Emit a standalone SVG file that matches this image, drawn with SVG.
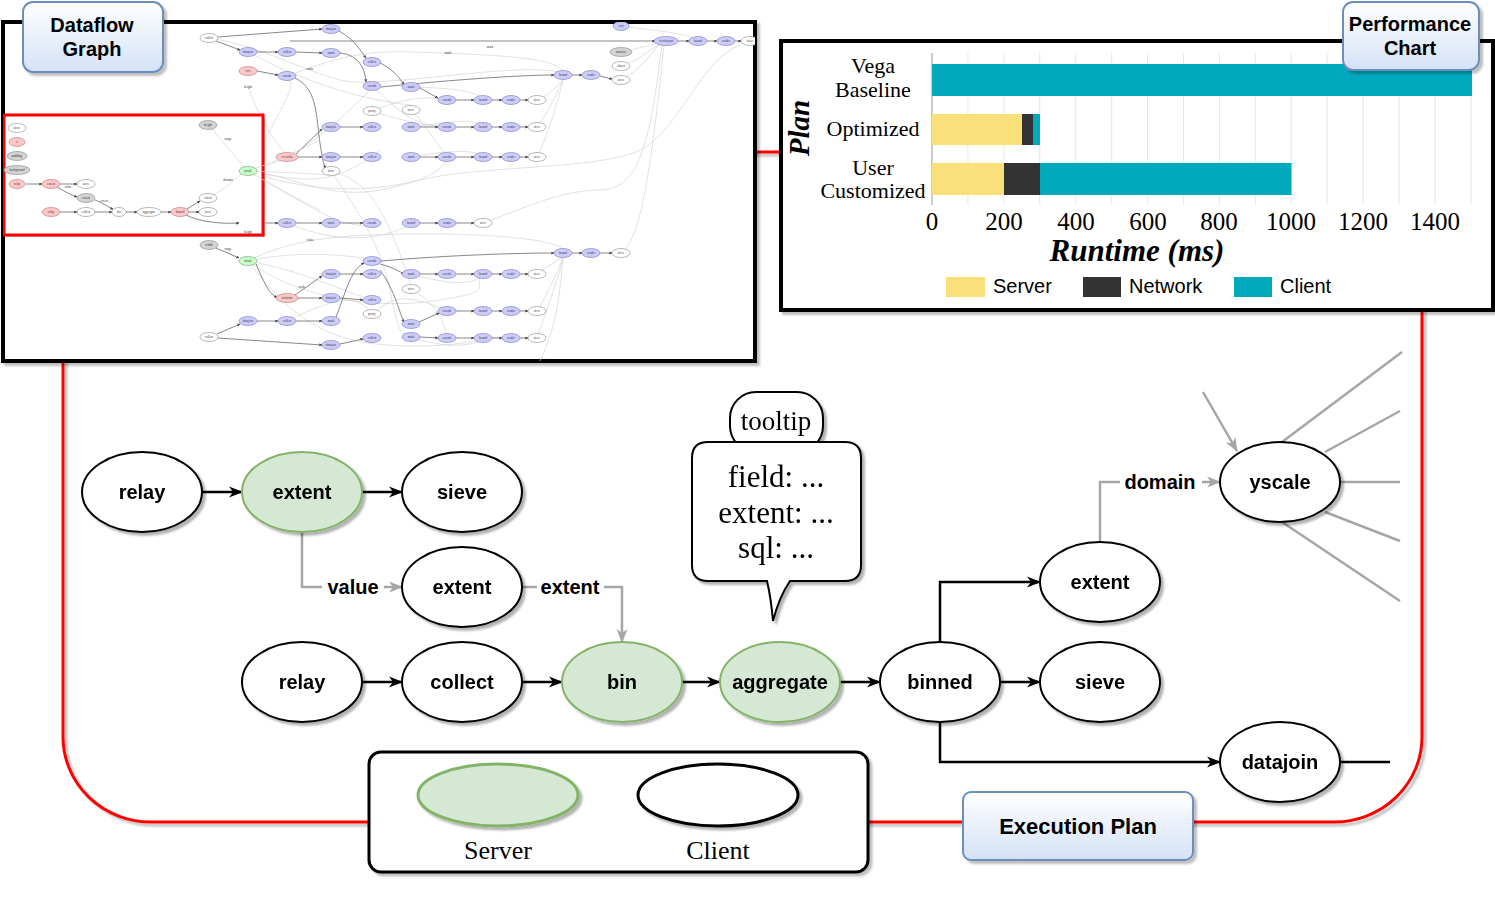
<svg xmlns="http://www.w3.org/2000/svg" width="1495" height="923" viewBox="0 0 1495 923">
<defs>
<style>
.n{fill:#fff;stroke:#000;stroke-width:2}
.s{fill:#D5E8D4;stroke:#82B366;stroke-width:2}
.nt{font-family:"Liberation Sans",Arial,sans-serif;font-weight:bold;font-size:20px;text-anchor:middle;fill:#000}
.ek{stroke:#000;stroke-width:2.5;fill:none;marker-end:url(#ak)}
.eg{stroke:#A6A6A6;stroke-width:2.5;fill:none}
.ega{marker-end:url(#ag)}
.lbl{font-family:"Liberation Sans",Arial,sans-serif;font-weight:bold;font-size:20px;text-anchor:middle;fill:#000}
.ser{font-family:"Liberation Serif","Times New Roman",serif;fill:#000;text-anchor:middle}
.title{fill:url(#gBlue);stroke:#6C8EBF;stroke-width:2}
.tt{font-family:"Liberation Sans",Arial,sans-serif;font-weight:bold;font-size:20px;text-anchor:middle;fill:#000}
.tb{fill:#CCCCFF;stroke:#7777B0;stroke-width:0.6}
.tr{fill:#FFC8C8;stroke:#B07777;stroke-width:0.6}
.tw{fill:#fff;stroke:#888;stroke-width:0.6}
.tg{fill:#D3D3D3;stroke:#888;stroke-width:0.6}
.tgr{fill:#C8FFC8;stroke:#70A070;stroke-width:0.6}
.tx{font-family:"Liberation Serif",serif;font-size:3.2px;text-anchor:middle;fill:#333}
.te{stroke:#555;stroke-width:0.7;fill:none;marker-end:url(#at)}
.tl{stroke:#D4D4D4;stroke-width:0.7;fill:none}
.grid{stroke:#E6E6E6;stroke-width:1}
.cat{font-family:"Liberation Serif","Times New Roman",serif;font-size:22px;text-anchor:middle;fill:#000}
.tick{font-family:"Liberation Serif","Times New Roman",serif;font-size:25px;text-anchor:middle;fill:#000}
.leg{font-family:"Liberation Sans",Arial,sans-serif;font-size:20px;fill:#000}
</style>
<linearGradient id="gBlue" x1="0" y1="0" x2="0" y2="1"><stop offset="0" stop-color="#FFFFFF"/><stop offset="1" stop-color="#D4E2F6"/></linearGradient>
<filter id="sh" x="-10%" y="-10%" width="125%" height="130%"><feDropShadow dx="3" dy="3" stdDeviation="1.2" flood-color="#000" flood-opacity="0.3"/></filter>
<filter id="shb" x="-5%" y="-5%" width="110%" height="115%"><feDropShadow dx="3" dy="3" stdDeviation="0.8" flood-color="#000" flood-opacity="0.25"/></filter>
<marker id="ak" markerUnits="userSpaceOnUse" markerWidth="14" markerHeight="12" viewBox="0 0 14 12" refX="13" refY="6" orient="auto"><path d="M0,0.5 L14,6 L0,11.5 L4,6 Z" fill="#000"/></marker>
<marker id="ag" markerUnits="userSpaceOnUse" markerWidth="14" markerHeight="12" viewBox="0 0 14 12" refX="13" refY="6" orient="auto"><path d="M0,0.5 L14,6 L0,11.5 L4,6 Z" fill="#A6A6A6"/></marker>
<marker id="at" markerUnits="userSpaceOnUse" markerWidth="3" markerHeight="3" viewBox="0 0 10 10" refX="9" refY="5" orient="auto"><path d="M0,0 L10,5 L0,10 Z" fill="#444"/></marker>
<clipPath id="clipG"><rect x="3" y="22" width="752" height="339"/></clipPath>
</defs>
<rect x="0" y="0" width="1495" height="923" fill="#fff"/>

<!-- red frame -->
<g id="frame">
<rect x="63" y="152" width="1359" height="670" rx="88" ry="85" fill="none" stroke="#FF0000" stroke-width="3" filter="url(#shb)"/>
</g>

<!-- Dataflow graph thumbnail -->
<g id="dataflow-graph">
<rect x="3" y="22" width="752" height="339" fill="#fff" stroke="#000" stroke-width="4" filter="url(#shb)"/>
<g clip-path="url(#clipG)">
<path class="tl" d="M209,38 C260,45 300,70 340,80 S520,60 563,73"/>
<path class="tl" d="M287,76 C330,60 360,50 411,52 S560,55 563,72"/>
<path class="tl" d="M248,52 C300,80 360,100 411,105"/>
<path class="tl" d="M372,86 C390,100 410,130 447,125"/>
<path class="tl" d="M372,111 C400,100 420,95 447,100"/>
<path class="tl" d="M372,111 C400,120 420,125 447,127"/>
<path class="tl" d="M411,110 C430,130 440,150 447,155"/>
<path class="tl" d="M411,87 C450,88 470,90 483,98"/>
<path class="tl" d="M411,127 C450,122 470,118 483,125"/>
<path class="tl" d="M411,157 C450,150 470,150 483,155"/>
<path class="tl" d="M537,100 C550,95 558,85 563,79"/>
<path class="tl" d="M537,127 C550,110 558,90 563,80"/>
<path class="tl" d="M537,157 C550,130 558,100 563,80"/>
<path class="tl" d="M483,223 C520,210 560,190 600,190 S650,140 662,45"/>
<path class="tl" d="M621,253 C640,240 650,180 664,45"/>
<path class="tl" d="M563,253 C560,300 555,330 540,361"/>
<path class="tl" d="M621,80 C640,70 650,55 660,44"/>
<path class="tl" d="M621,66 C640,60 650,50 660,44"/>
<path class="tl" d="M621,52 C640,48 650,45 658,43"/>
<path class="tl" d="M621,26 C650,30 680,32 696,39"/>
<path class="tl" d="M331,171 C350,200 380,240 390,290 S400,330 411,337"/>
<path class="tl" d="M331,171 C360,180 380,190 411,286"/>
<path class="tl" d="M248,171 C300,180 330,190 380,150"/>
<path class="tl" d="M248,171 C300,160 340,120 372,88"/>
<path class="tl" d="M248,171 C290,175 330,200 380,190 S440,170 447,160"/>
<path class="tl" d="M248,171 C300,200 340,230 372,225"/>
<path class="tl" d="M248,171 C300,190 360,195 420,180 S600,170 640,150 S700,60 740,45"/>
<path class="tl" d="M248,171 C280,110 300,80 287,80"/>
<path class="tl" d="M248,261 C300,250 340,255 372,259"/>
<path class="tl" d="M248,261 C300,270 340,290 372,300"/>
<path class="tl" d="M248,261 C290,240 330,235 411,234 S560,240 563,250"/>
<path class="tl" d="M248,261 C300,330 340,345 410,346 S500,330 511,340"/>
<path class="tl" d="M248,261 C300,300 380,310 440,300 S470,290 483,272"/>
<path class="tl" d="M287,321 C330,300 360,290 372,316"/>
<path class="tl" d="M372,314 C390,300 400,290 447,311"/>
<path class="tl" d="M411,289 C430,300 440,310 447,336"/>
<path class="tl" d="M537,274 C550,265 558,260 563,257"/>
<path class="tl" d="M537,311 C550,290 558,270 563,258"/>
<path class="tl" d="M537,338 C550,300 558,280 563,258"/>
<path class="tl" d="M411,337 C450,350 470,345 483,340"/>
<path class="tl" d="M411,274 C450,285 470,285 483,276"/>
<path class="tl" d="M287,223 C340,245 380,240 410,225"/>
<path class="tl" d="M248,87 C260,120 280,150 287,154"/>
<path class="te" d="M218,37 L322,29"/>
<path class="te" d="M216,41 L240,50"/>
<path class="te" d="M257,52 L278,52"/>
<path class="te" d="M296,52 L322,53"/>
<path class="te" d="M339,31 C355,40 360,50 366,58"/>
<path class="te" d="M257,71 L278,75"/>
<path class="te" d="M340,53 C360,55 365,70 366,82"/>
<path class="te" d="M380,63 C395,70 400,80 404,84"/>
<path class="te" d="M295,78 C320,90 315,120 322,155 S325,166 324,168"/>
<path class="te" d="M296,154 L322,129"/>
<path class="te" d="M298,157 L322,157"/>
<path class="te" d="M340,127 L363,127"/>
<path class="te" d="M340,157 L363,157"/>
<path class="te" d="M257,223 L278,223"/>
<path class="te" d="M296,223 L322,223"/>
<path class="te" d="M340,223 L363,223"/>
<path class="te" d="M381,87 C450,80 520,75 554,75"/>
<path class="te" d="M420,88 L438,98"/>
<path class="te" d="M456,100 L474,100"/>
<path class="te" d="M492,100 L502,100"/>
<path class="te" d="M520,100 L528,100"/>
<path class="te" d="M420,127 L438,127"/>
<path class="te" d="M456,127 L474,127"/>
<path class="te" d="M492,127 L502,127"/>
<path class="te" d="M520,127 L528,127"/>
<path class="te" d="M420,157 L438,157"/>
<path class="te" d="M456,157 L474,157"/>
<path class="te" d="M492,157 L502,157"/>
<path class="te" d="M520,157 L528,157"/>
<path class="te" d="M572,75 L582,75"/>
<path class="te" d="M600,76 L612,79"/>
<path class="te" d="M290,41 L655,41"/>
<path class="te" d="M677,41 L689,41"/>
<path class="te" d="M707,41 L717,41"/>
<path class="te" d="M735,41 L741,41"/>
<path class="te" d="M420,223 L438,223"/>
<path class="te" d="M456,223 L474,223"/>
<path class="te" d="M381,261 C450,255 520,253 554,253"/>
<path class="te" d="M572,253 L582,253"/>
<path class="te" d="M600,253 L612,253"/>
<path class="te" d="M256,264 C265,285 270,295 277,297"/>
<path class="te" d="M295,295 L322,276"/>
<path class="te" d="M297,298 L322,298"/>
<path class="te" d="M340,274 L363,274"/>
<path class="te" d="M340,298 L363,300"/>
<path class="te" d="M217,334 L240,324"/>
<path class="te" d="M257,321 L278,321"/>
<path class="te" d="M296,321 L322,321"/>
<path class="te" d="M218,338 L322,345"/>
<path class="te" d="M340,344 L363,339"/>
<path class="te" d="M336,317 C345,295 350,270 364,263"/>
<path class="te" d="M380,264 C395,268 400,272 404,274"/>
<path class="te" d="M420,274 L438,274"/>
<path class="te" d="M456,274 L474,274"/>
<path class="te" d="M492,274 L502,274"/>
<path class="te" d="M520,274 L528,274"/>
<path class="te" d="M419,322 L439,313"/>
<path class="te" d="M456,311 L474,311"/>
<path class="te" d="M492,311 L502,311"/>
<path class="te" d="M520,311 L528,311"/>
<path class="te" d="M420,337 L438,338"/>
<path class="te" d="M456,338 L474,338"/>
<path class="te" d="M492,338 L502,338"/>
<path class="te" d="M520,338 L528,338"/>
<path class="te" d="M380,270 C395,290 400,315 404,322"/>
<path class="te" d="M216,248 L239,258"/>
<ellipse class="tw" cx="209" cy="38" rx="9" ry="4.5"/><text class="tx" x="209" y="39.2">collect</text>
<ellipse class="tb" cx="331" cy="29" rx="9" ry="4.5"/><text class="tx" x="331" y="30.2">datajoin</text>
<ellipse class="tb" cx="248" cy="52" rx="9" ry="4.5"/><text class="tx" x="248" y="53.2">datajoin</text>
<ellipse class="tb" cx="287" cy="52" rx="9" ry="4.5"/><text class="tx" x="287" y="53.2">collect</text>
<ellipse class="tb" cx="331" cy="53" rx="9" ry="4.5"/><text class="tx" x="331" y="54.2">mark</text>
<ellipse class="tb" cx="372" cy="62" rx="9" ry="4.5"/><text class="tx" x="372" y="63.2">collect</text>
<ellipse class="tr" cx="248" cy="71" rx="9" ry="4.5"/><text class="tx" x="248" y="72.2">rect</text>
<ellipse class="tb" cx="287" cy="76" rx="9" ry="4.5"/><text class="tx" x="287" y="77.2">encode</text>
<ellipse class="tb" cx="372" cy="86" rx="9" ry="4.5"/><text class="tx" x="372" y="87.2">encode</text>
<ellipse class="tw" cx="372" cy="111" rx="9" ry="4.5"/><text class="tx" x="372" y="112.2">proxy</text>
<ellipse class="tb" cx="331" cy="127" rx="9" ry="4.5"/><text class="tx" x="331" y="128.2">datajoin</text>
<ellipse class="tb" cx="372" cy="127" rx="9" ry="4.5"/><text class="tx" x="372" y="128.2">collect</text>
<ellipse class="tr" cx="287" cy="157" rx="11" ry="4.5"/><text class="tx" x="287" y="158.2">axisticks</text>
<ellipse class="tb" cx="331" cy="157" rx="9" ry="4.5"/><text class="tx" x="331" y="158.2">datajoin</text>
<ellipse class="tb" cx="372" cy="157" rx="9" ry="4.5"/><text class="tx" x="372" y="158.2">collect</text>
<ellipse class="tw" cx="331" cy="171" rx="9" ry="4.5"/><text class="tx" x="331" y="172.2">sieve</text>
<ellipse class="tb" cx="248" cy="223" rx="9" ry="4.5"/><text class="tx" x="248" y="224.2">datajoin</text>
<ellipse class="tb" cx="287" cy="223" rx="9" ry="4.5"/><text class="tx" x="287" y="224.2">collect</text>
<ellipse class="tb" cx="331" cy="223" rx="9" ry="4.5"/><text class="tx" x="331" y="224.2">mark</text>
<ellipse class="tb" cx="372" cy="223" rx="9" ry="4.5"/><text class="tx" x="372" y="224.2">encode</text>
<ellipse class="tb" cx="411" cy="87" rx="9" ry="4.5"/><text class="tx" x="411" y="88.2">mark</text>
<ellipse class="tb" cx="447" cy="100" rx="9" ry="4.5"/><text class="tx" x="447" y="101.2">encode</text>
<ellipse class="tb" cx="483" cy="100" rx="9" ry="4.5"/><text class="tx" x="483" y="101.2">bound</text>
<ellipse class="tb" cx="511" cy="100" rx="9" ry="4.5"/><text class="tx" x="511" y="101.2">render</text>
<ellipse class="tw" cx="537" cy="100" rx="9" ry="4.5"/><text class="tx" x="537" y="101.2">sieve</text>
<ellipse class="tw" cx="411" cy="110" rx="9" ry="4.5"/><text class="tx" x="411" y="111.2">sieve</text>
<ellipse class="tb" cx="411" cy="127" rx="9" ry="4.5"/><text class="tx" x="411" y="128.2">mark</text>
<ellipse class="tb" cx="447" cy="127" rx="9" ry="4.5"/><text class="tx" x="447" y="128.2">encode</text>
<ellipse class="tb" cx="483" cy="127" rx="9" ry="4.5"/><text class="tx" x="483" y="128.2">bound</text>
<ellipse class="tb" cx="511" cy="127" rx="9" ry="4.5"/><text class="tx" x="511" y="128.2">render</text>
<ellipse class="tw" cx="537" cy="127" rx="9" ry="4.5"/><text class="tx" x="537" y="128.2">sieve</text>
<ellipse class="tb" cx="411" cy="157" rx="9" ry="4.5"/><text class="tx" x="411" y="158.2">mark</text>
<ellipse class="tb" cx="447" cy="157" rx="9" ry="4.5"/><text class="tx" x="447" y="158.2">encode</text>
<ellipse class="tb" cx="483" cy="157" rx="9" ry="4.5"/><text class="tx" x="483" y="158.2">bound</text>
<ellipse class="tb" cx="511" cy="157" rx="9" ry="4.5"/><text class="tx" x="511" y="158.2">render</text>
<ellipse class="tw" cx="537" cy="157" rx="9" ry="4.5"/><text class="tx" x="537" y="158.2">sieve</text>
<ellipse class="tb" cx="563" cy="75" rx="9" ry="4.5"/><text class="tx" x="563" y="76.2">bound</text>
<ellipse class="tb" cx="591" cy="75" rx="9" ry="4.5"/><text class="tx" x="591" y="76.2">render</text>
<ellipse class="tw" cx="621" cy="80" rx="9" ry="4.5"/><text class="tx" x="621" y="81.2">sieve</text>
<ellipse class="tb" cx="621" cy="26" rx="8" ry="4.5"/><text class="tx" x="621" y="27.2">root</text>
<ellipse class="tb" cx="666" cy="41" rx="12" ry="4.5"/><text class="tx" x="666" y="42.2">viewlayout</text>
<ellipse class="tb" cx="698" cy="41" rx="9" ry="4.5"/><text class="tx" x="698" y="42.2">bound</text>
<ellipse class="tb" cx="726" cy="41" rx="9" ry="4.5"/><text class="tx" x="726" y="42.2">render</text>
<ellipse class="tw" cx="750" cy="41" rx="9" ry="4.5"/><text class="tx" x="750" y="42.2">sieve</text>
<ellipse class="tg" cx="621" cy="52" rx="11" ry="4.5"/><text class="tx" x="621" y="53.2">autosize</text>
<ellipse class="tw" cx="621" cy="66" rx="9" ry="4.5"/><text class="tx" x="621" y="67.2">object</text>
<ellipse class="tb" cx="411" cy="223" rx="9" ry="4.5"/><text class="tx" x="411" y="224.2">bound</text>
<ellipse class="tb" cx="447" cy="223" rx="9" ry="4.5"/><text class="tx" x="447" y="224.2">render</text>
<ellipse class="tw" cx="483" cy="223" rx="9" ry="4.5"/><text class="tx" x="483" y="224.2">sieve</text>
<ellipse class="tg" cx="209" cy="245" rx="9" ry="4.5"/><text class="tx" x="209" y="246.2">width</text>
<ellipse class="tgr" cx="248" cy="261" rx="9" ry="4.5"/><text class="tx" x="248" y="262.2">xscale</text>
<ellipse class="tb" cx="372" cy="261" rx="9" ry="4.5"/><text class="tx" x="372" y="262.2">encode</text>
<ellipse class="tb" cx="331" cy="274" rx="9" ry="4.5"/><text class="tx" x="331" y="275.2">datajoin</text>
<ellipse class="tb" cx="372" cy="274" rx="9" ry="4.5"/><text class="tx" x="372" y="275.2">collect</text>
<ellipse class="tr" cx="287" cy="298" rx="11" ry="4.5"/><text class="tx" x="287" y="299.2">axisticks</text>
<ellipse class="tb" cx="331" cy="298" rx="9" ry="4.5"/><text class="tx" x="331" y="299.2">datajoin</text>
<ellipse class="tb" cx="372" cy="300" rx="9" ry="4.5"/><text class="tx" x="372" y="301.2">collect</text>
<ellipse class="tw" cx="372" cy="314" rx="9" ry="4.5"/><text class="tx" x="372" y="315.2">proxy</text>
<ellipse class="tb" cx="248" cy="321" rx="9" ry="4.5"/><text class="tx" x="248" y="322.2">datajoin</text>
<ellipse class="tb" cx="287" cy="321" rx="9" ry="4.5"/><text class="tx" x="287" y="322.2">collect</text>
<ellipse class="tb" cx="331" cy="321" rx="9" ry="4.5"/><text class="tx" x="331" y="322.2">mark</text>
<ellipse class="tw" cx="209" cy="337" rx="9" ry="4.5"/><text class="tx" x="209" y="338.2">collect</text>
<ellipse class="tb" cx="331" cy="345" rx="9" ry="4.5"/><text class="tx" x="331" y="346.2">datajoin</text>
<ellipse class="tb" cx="372" cy="338" rx="9" ry="4.5"/><text class="tx" x="372" y="339.2">collect</text>
<ellipse class="tb" cx="563" cy="253" rx="9" ry="4.5"/><text class="tx" x="563" y="254.2">bound</text>
<ellipse class="tb" cx="591" cy="253" rx="9" ry="4.5"/><text class="tx" x="591" y="254.2">render</text>
<ellipse class="tw" cx="621" cy="253" rx="9" ry="4.5"/><text class="tx" x="621" y="254.2">sieve</text>
<ellipse class="tb" cx="411" cy="274" rx="9" ry="4.5"/><text class="tx" x="411" y="275.2">mark</text>
<ellipse class="tb" cx="447" cy="274" rx="9" ry="4.5"/><text class="tx" x="447" y="275.2">encode</text>
<ellipse class="tb" cx="483" cy="274" rx="9" ry="4.5"/><text class="tx" x="483" y="275.2">bound</text>
<ellipse class="tb" cx="511" cy="274" rx="9" ry="4.5"/><text class="tx" x="511" y="275.2">render</text>
<ellipse class="tw" cx="537" cy="274" rx="9" ry="4.5"/><text class="tx" x="537" y="275.2">sieve</text>
<ellipse class="tw" cx="411" cy="289" rx="9" ry="4.5"/><text class="tx" x="411" y="290.2">sieve</text>
<ellipse class="tb" cx="447" cy="311" rx="9" ry="4.5"/><text class="tx" x="447" y="312.2">encode</text>
<ellipse class="tb" cx="483" cy="311" rx="9" ry="4.5"/><text class="tx" x="483" y="312.2">bound</text>
<ellipse class="tb" cx="511" cy="311" rx="9" ry="4.5"/><text class="tx" x="511" y="312.2">render</text>
<ellipse class="tw" cx="537" cy="311" rx="9" ry="4.5"/><text class="tx" x="537" y="312.2">sieve</text>
<ellipse class="tb" cx="411" cy="324" rx="9" ry="4.5"/><text class="tx" x="411" y="325.2">mark</text>
<ellipse class="tb" cx="411" cy="337" rx="9" ry="4.5"/><text class="tx" x="411" y="338.2">mark</text>
<ellipse class="tb" cx="447" cy="338" rx="9" ry="4.5"/><text class="tx" x="447" y="339.2">encode</text>
<ellipse class="tb" cx="483" cy="338" rx="9" ry="4.5"/><text class="tx" x="483" y="339.2">bound</text>
<ellipse class="tb" cx="511" cy="338" rx="9" ry="4.5"/><text class="tx" x="511" y="339.2">render</text>
<ellipse class="tw" cx="537" cy="338" rx="9" ry="4.5"/><text class="tx" x="537" y="339.2">sieve</text>
<text class="tx" x="248" y="88">height</text>
<text class="tx" x="310" y="70">value</text>
<text class="tx" x="228" y="250">range</text>
<text class="tx" x="302" y="288">scale</text>
<text class="tx" x="310" y="241">value</text>
<text class="tx" x="448" y="54">mark</text>
<text class="tx" x="490" y="48">mark</text>
<text class="tx" x="600" y="9">mark</text>

<rect x="6" y="117" width="259" height="120" fill="#BBBBBB"/>
<rect x="4" y="115" width="259" height="120" fill="#fff" stroke="#FF0000" stroke-width="3"/>
<path class="tl" d="M248,171 C280,160 300,150 320,140"/>
<path class="tl" d="M248,171 C280,190 300,200 320,210"/>
<path class="tl" d="M248,171 C275,172 300,173 330,175"/>
<path class="te" d="M26,184 L42,184"/>
<path class="te" d="M60,184 L77,184"/>
<path class="te" d="M57,187 C65,192 72,195 77,197"/>
<path class="te" d="M60,212 L77,212"/>
<path class="te" d="M95,212 L112,212"/>
<path class="te" d="M126,212 L137,212"/>
<path class="te" d="M161,212 L171,212"/>
<path class="te" d="M95,200 C105,204 110,208 113,209"/>
<path class="te" d="M187,209 L200,201"/>
<path class="te" d="M189,212 L199,212"/>
<path class="te" d="M186,215 C200,222 220,224 239,223"/>
<path class="tl" d="M214,195 C225,188 235,180 241,174"/>
<path class="tl" d="M212,129 C225,145 235,155 244,167"/>
<ellipse class="tw" cx="17" cy="128" rx="9" ry="4.5"/><text class="tx" x="17" y="129.2">sieve</text>
<ellipse class="tr" cx="17" cy="142" rx="8" ry="4.5"/><text class="tx" x="17" y="143.2">x</text>
<ellipse class="tg" cx="17" cy="156" rx="10" ry="4.5"/><text class="tx" x="17" y="157.2">padding</text>
<ellipse class="tg" cx="17" cy="170" rx="13" ry="4.5"/><text class="tx" x="17" y="171.2">background</text>
<ellipse class="tr" cx="17" cy="184" rx="8" ry="4.5"/><text class="tx" x="17" y="185.2">relay</text>
<ellipse class="tr" cx="51" cy="184" rx="9" ry="4.5"/><text class="tx" x="51" y="185.2">extent</text>
<ellipse class="tw" cx="86" cy="184" rx="9" ry="4.5"/><text class="tx" x="86" y="185.2">sieve</text>
<ellipse class="tg" cx="86" cy="198" rx="9" ry="4.5"/><text class="tx" x="86" y="199.2">extent</text>
<ellipse class="tr" cx="51" cy="212" rx="9" ry="4.5"/><text class="tx" x="51" y="213.2">relay</text>
<ellipse class="tw" cx="86" cy="212" rx="9" ry="4.5"/><text class="tx" x="86" y="213.2">collect</text>
<ellipse class="tw" cx="119" cy="212" rx="7" ry="4.5"/><text class="tx" x="119" y="213.2">bin</text>
<ellipse class="tw" cx="149" cy="212" rx="12" ry="4.5"/><text class="tx" x="149" y="213.2">aggregate</text>
<ellipse class="tr" cx="180" cy="212" rx="9" ry="4.5"/><text class="tx" x="180" y="213.2">binned</text>
<ellipse class="tw" cx="208" cy="198" rx="9" ry="4.5"/><text class="tx" x="208" y="199.2">extent</text>
<ellipse class="tw" cx="208" cy="212" rx="9" ry="4.5"/><text class="tx" x="208" y="213.2">sieve</text>
<ellipse class="tg" cx="208" cy="125" rx="9" ry="4.5"/><text class="tx" x="208" y="126.2">height</text>
<ellipse class="tgr" cx="248" cy="171" rx="9" ry="4.5"/><text class="tx" x="248" y="172.2">yscale</text>
<text class="tx" x="68" y="188">value</text>
<text class="tx" x="104" y="202">extent</text>
<text class="tx" x="228" y="181">domain</text>
<text class="tx" x="228" y="140">range</text>
<text class="tx" x="248" y="233">height</text>
</g>
</g>

<!-- Performance chart -->
<g id="performance-chart">
<rect x="781" y="41" width="712" height="269" fill="#fff" stroke="#000" stroke-width="4" filter="url(#shb)"/>
<g>
<line class="grid" x1="967.9" y1="53" x2="967.9" y2="205"/>
<line class="grid" x1="1003.9" y1="53" x2="1003.9" y2="205"/>
<line class="grid" x1="1039.8" y1="53" x2="1039.8" y2="205"/>
<line class="grid" x1="1075.7" y1="53" x2="1075.7" y2="205"/>
<line class="grid" x1="1111.7" y1="53" x2="1111.7" y2="205"/>
<line class="grid" x1="1147.6" y1="53" x2="1147.6" y2="205"/>
<line class="grid" x1="1183.5" y1="53" x2="1183.5" y2="205"/>
<line class="grid" x1="1219.4" y1="53" x2="1219.4" y2="205"/>
<line class="grid" x1="1255.4" y1="53" x2="1255.4" y2="205"/>
<line class="grid" x1="1291.3" y1="53" x2="1291.3" y2="205"/>
<line class="grid" x1="1327.2" y1="53" x2="1327.2" y2="205"/>
<line class="grid" x1="1363.2" y1="53" x2="1363.2" y2="205"/>
<line class="grid" x1="1399.1" y1="53" x2="1399.1" y2="205"/>
<line class="grid" x1="1435" y1="53" x2="1435" y2="205"/>
<line class="grid" x1="1471" y1="53" x2="1471" y2="205"/>
</g>
<line x1="932" y1="53" x2="932" y2="205" stroke="#AAAAAA" stroke-width="1.2"/>
<rect x="932" y="64" width="540" height="32" fill="#00A9BC"/>
<rect x="932" y="114" width="90" height="31" fill="#F9E07B"/>
<rect x="1022" y="114" width="11" height="31" fill="#333333"/>
<rect x="1033" y="114" width="7" height="31" fill="#00A9BC"/>
<rect x="932" y="163" width="72" height="32" fill="#F9E07B"/>
<rect x="1004" y="163" width="36" height="32" fill="#333333"/>
<rect x="1040" y="163" width="251.5" height="32" fill="#00A9BC"/>
<text class="cat" x="873" y="73">Vega</text>
<text class="cat" x="873" y="97">Baseline</text>
<text class="cat" x="873" y="136">Optimized</text>
<text class="cat" x="873" y="175">User</text>
<text class="cat" x="873" y="198">Customized</text>
<text class="tick" x="932" y="230">0</text>
<text class="tick" x="1004" y="230">200</text>
<text class="tick" x="1076" y="230">400</text>
<text class="tick" x="1148" y="230">600</text>
<text class="tick" x="1219" y="230">800</text>
<text class="tick" x="1291" y="230">1000</text>
<text class="tick" x="1363" y="230">1200</text>
<text class="tick" x="1435" y="230">1400</text>
<text x="1137" y="261" font-family="Liberation Serif,'Times New Roman',serif" font-weight="bold" font-style="italic" font-size="31" text-anchor="middle">Runtime (ms)</text>
<text transform="translate(809,128) rotate(-90)" font-family="Liberation Serif,'Times New Roman',serif" font-weight="bold" font-style="italic" font-size="29" text-anchor="middle">Plan</text>
<rect x="946" y="277" width="39" height="20" fill="#F9E07B"/>
<text class="leg" x="993" y="293">Server</text>
<rect x="1083" y="277" width="38" height="20" fill="#333333"/>
<text class="leg" x="1129" y="293">Network</text>
<rect x="1234" y="277" width="38" height="20" fill="#00A9BC"/>
<text class="leg" x="1280" y="293">Client</text>
</g>

<!-- title boxes -->
<g id="title-dataflow">
<rect class="title" x="23" y="2" width="140" height="70" rx="10" filter="url(#shb)"/>
<text class="tt" x="92" y="32">Dataflow</text>
<text class="tt" x="92" y="56">Graph</text>
</g>
<g id="title-performance">
<rect class="title" x="1343" y="2" width="136" height="68" rx="10" filter="url(#shb)"/>
<text class="tt" x="1410" y="31">Performance</text>
<text class="tt" x="1410" y="55">Chart</text>
</g>

<!-- connectors -->
<g id="connectors">
<path class="ek" d="M202,492 H242"/>
<path class="ek" d="M362,492 H402"/>
<path class="eg ega" d="M302,532 V587 H402"/>
<path class="eg ega" d="M522,587 H622 V642"/>
<path class="ek" d="M362,682 H402"/>
<path class="ek" d="M522,682 H562"/>
<path class="ek" d="M682,682 H720"/>
<path class="ek" d="M840,682 H880"/>
<path class="ek" d="M1000,682 H1040"/>
<path class="ek" d="M940,642 V582 H1040"/>
<path class="ek" d="M940,722 V762 H1220"/>
<path d="M1340,762 H1390" stroke="#000" stroke-width="2.5" fill="none"/>
<path class="eg ega" d="M1100,542 V482 H1220"/>
<path class="eg ega" d="M1203,392 L1237,451"/>
<path class="eg" d="M1282,442 L1402,352"/>
<path class="eg" d="M1325,452 L1400,411"/>
<path class="eg" d="M1340,482 L1400,482"/>
<path class="eg" d="M1325,512 L1400,541"/>
<path class="eg" d="M1282,522 L1400,601"/>
<rect x="322" y="574" width="62" height="26" fill="#fff"/>
<text class="lbl" x="353" y="594">value</text>
<rect x="537" y="574" width="67" height="26" fill="#fff"/>
<text class="lbl" x="570" y="594">extent</text>
<rect x="1120" y="469" width="82" height="26" fill="#fff"/>
<text class="lbl" x="1160" y="489">domain</text>
</g>

<!-- nodes -->
<g id="n-relay1" filter="url(#sh)"><ellipse class="n" cx="142" cy="492" rx="60" ry="40"/><text class="nt" x="142" y="499">relay</text></g>
<g id="n-extent1" filter="url(#sh)"><ellipse class="s" cx="302" cy="492" rx="60" ry="40"/><text class="nt" x="302" y="499">extent</text></g>
<g id="n-sieve1" filter="url(#sh)"><ellipse class="n" cx="462" cy="492" rx="60" ry="40"/><text class="nt" x="462" y="499">sieve</text></g>
<g id="n-extent2" filter="url(#sh)"><ellipse class="n" cx="462" cy="587" rx="60" ry="40"/><text class="nt" x="462" y="594">extent</text></g>
<g id="n-relay2" filter="url(#sh)"><ellipse class="n" cx="302" cy="682" rx="60" ry="40"/><text class="nt" x="302" y="689">relay</text></g>
<g id="n-collect" filter="url(#sh)"><ellipse class="n" cx="462" cy="682" rx="60" ry="40"/><text class="nt" x="462" y="689">collect</text></g>
<g id="n-bin" filter="url(#sh)"><ellipse class="s" cx="622" cy="682" rx="60" ry="40"/><text class="nt" x="622" y="689">bin</text></g>
<g id="n-aggregate" filter="url(#sh)"><ellipse class="s" cx="780" cy="682" rx="60" ry="40"/><text class="nt" x="780" y="689">aggregate</text></g>
<g id="n-binned" filter="url(#sh)"><ellipse class="n" cx="940" cy="682" rx="60" ry="40"/><text class="nt" x="940" y="689">binned</text></g>
<g id="n-sieve2" filter="url(#sh)"><ellipse class="n" cx="1100" cy="682" rx="60" ry="40"/><text class="nt" x="1100" y="689">sieve</text></g>
<g id="n-extent3" filter="url(#sh)"><ellipse class="n" cx="1100" cy="582" rx="60" ry="40"/><text class="nt" x="1100" y="589">extent</text></g>
<g id="n-yscale" filter="url(#sh)"><ellipse class="n" cx="1280" cy="482" rx="60" ry="40"/><text class="nt" x="1280" y="489">yscale</text></g>
<g id="n-datajoin" filter="url(#sh)"><ellipse class="n" cx="1280" cy="762" rx="60" ry="40"/><text class="nt" x="1280" y="769">datajoin</text></g>

<!-- tooltip -->
<g id="tooltip" filter="url(#sh)">
<rect x="730" y="392" width="93" height="60" rx="26" fill="#fff" stroke="#000" stroke-width="2"/>
<text class="ser" x="776" y="430" font-size="27">tooltip</text>
<path d="M708,442 H845 Q861,442 861,458 V565 Q861,581 845,581 H790 Q779,597 773,621 Q771,598 767,581 H708 Q692,581 692,565 V458 Q692,442 708,442 Z" fill="#fff" stroke="#000" stroke-width="2"/>
<text class="ser" x="776" y="487" font-size="31">field: ...</text>
<text class="ser" x="776" y="523" font-size="31">extent: ...</text>
<text class="ser" x="776" y="558" font-size="31">sql: ...</text>
</g>

<!-- legend -->
<g id="legend">
<rect x="369" y="752" width="499" height="120" rx="12" fill="#fff" stroke="#000" stroke-width="3" filter="url(#shb)"/>
<ellipse cx="498" cy="795" rx="80" ry="31" fill="#D5E8D4" stroke="#82B366" stroke-width="3" filter="url(#sh)"/>
<ellipse cx="718" cy="795" rx="80" ry="31" fill="#fff" stroke="#000" stroke-width="3" filter="url(#sh)"/>
<text class="ser" x="498" y="859" font-size="26">Server</text>
<text class="ser" x="718" y="859" font-size="26">Client</text>
</g>

<g id="title-execution">
<rect class="title" x="963" y="792" width="230" height="68" rx="8" filter="url(#shb)"/>
<text class="tt" x="1078" y="834" style="font-size:22px">Execution Plan</text>
</g>
</svg>
